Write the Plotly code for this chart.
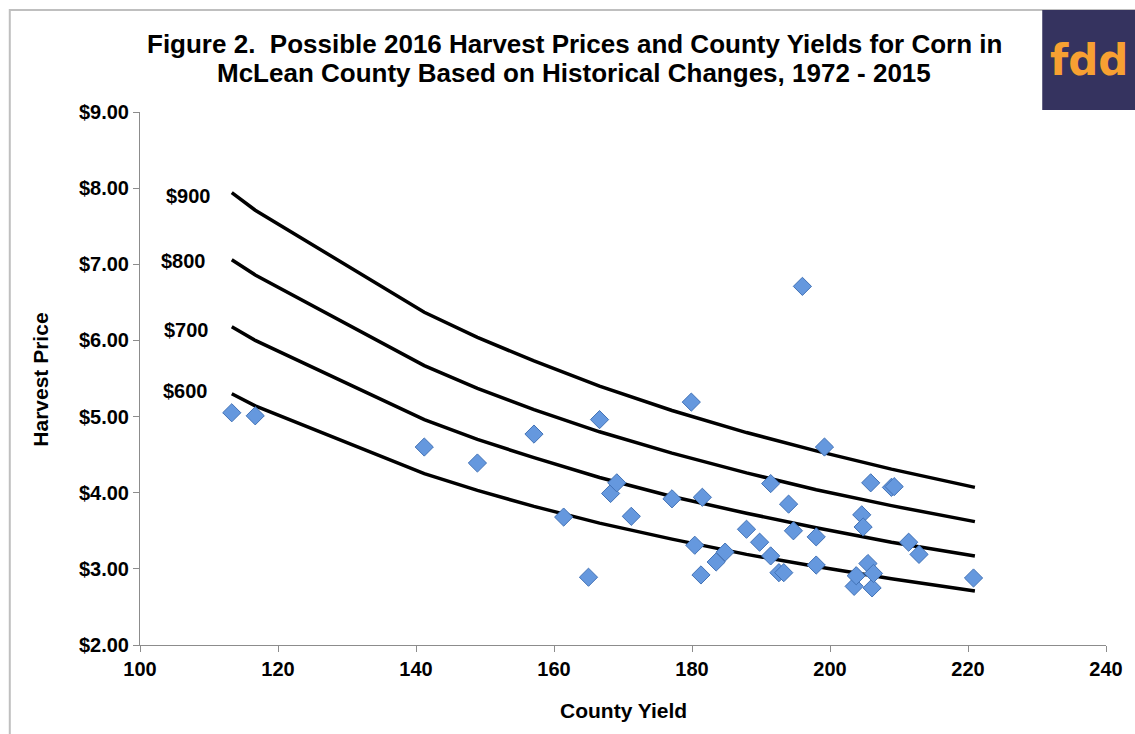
import plotly.graph_objects as go

# Scatter data: county yield vs harvest price (1972-2015)
yields = [113.3, 116.7, 141.2, 148.9, 157.1, 161.4, 165.0, 166.6, 168.2, 169.1,
          171.2, 177.1, 179.9, 180.4, 181.3, 181.5, 183.5, 184.8, 187.9, 189.8,
          191.4, 191.4, 192.6, 193.3, 194.0, 194.7, 196.0, 198.0, 198.0, 199.2,
          203.5, 203.8, 204.6, 204.8, 205.5, 205.9, 206.1, 206.3, 208.9, 209.3,
          211.4, 212.9, 220.8]
prices = [5.05, 5.01, 4.60, 4.39, 4.77, 3.68, 2.89, 4.96, 3.99, 4.13,
          3.69, 3.92, 5.19, 3.31, 2.92, 3.94, 3.09, 3.22, 3.52, 3.35,
          4.12, 3.17, 2.95, 2.95, 3.85, 3.50, 6.71, 3.42, 3.05, 4.60,
          2.77, 2.91, 3.71, 3.55, 3.07, 4.13, 2.75, 2.94, 4.07, 4.08,
          3.35, 3.19, 2.88]

# Revenue curves (price at each yield point)
curve_x = [113.3, 116.7, 141.2, 148.9, 157.1, 166.6, 177.1, 187.9, 198.0, 208.9, 221.0]
curve_600 = [5.30, 5.14, 4.25, 4.03, 3.82, 3.60, 3.39, 3.19, 3.03, 2.87, 2.71]
curve_700 = [6.18, 6.00, 4.96, 4.70, 4.46, 4.20, 3.95, 3.73, 3.54, 3.35, 3.17]
curve_800 = [7.06, 6.86, 5.67, 5.37, 5.09, 4.80, 4.52, 4.26, 4.04, 3.83, 3.62]
curve_900 = [7.94, 7.71, 6.37, 6.04, 5.73, 5.40, 5.08, 4.79, 4.55, 4.31, 4.07]

curve_labels = ["$900", "$800", "$700", "$600"]
label_x = [110.6, 109.8, 110.3, 110.1]
label_y = [7.90, 7.04, 6.14, 5.34]

x_ticks = [100, 120, 140, 160, 180, 200, 220, 240]
x_tick_text = ["100", "120", "140", "160", "180", "200", "220", "240"]
y_ticks = [2, 3, 4, 5, 6, 7, 8, 9]
y_tick_text = ["$2.00", "$3.00", "$4.00", "$5.00", "$6.00", "$7.00", "$8.00", "$9.00"]

FONT = "Liberation Sans, Arial, sans-serif"

fig = go.Figure()
for cy in [curve_600, curve_700, curve_800, curve_900]:
    fig.add_trace(go.Scatter(x=curve_x, y=cy, mode="lines",
                             line=dict(color="black", width=3.5),
                             showlegend=False, hoverinfo="skip"))

fig.add_trace(go.Scatter(x=yields, y=prices, mode="markers",
                         marker=dict(symbol="diamond", size=14, color="#6598de",
                                     line=dict(color="#4272b6", width=1)),
                         showlegend=False))

annotations = []
for t, lx, ly in zip(curve_labels, label_x, label_y):
    annotations.append(dict(x=lx, y=ly, xref="x", yref="y", text="<b>%s</b>" % t,
                            showarrow=False, xanchor="right", yanchor="middle",
                            font=dict(family=FONT, size=20, color="black")))

annotations += [
    dict(x=0.4496, y=1.1276, xref="paper", yref="paper", showarrow=False,
         text="<b>Figure 2.  Possible 2016 Harvest Prices and County Yields for Corn in</b>",
         xanchor="center", yanchor="middle", font=dict(family=FONT, size=26, color="black")),
    dict(x=0.4496, y=1.0732, xref="paper", yref="paper", showarrow=False,
         text="<b>McLean County Based on Historical Changes, 1972 - 2015</b>",
         xanchor="center", yanchor="middle", font=dict(family=FONT, size=26, color="black")),
    dict(x=0.5, y=-0.122, xref="paper", yref="paper", showarrow=False,
         text="<b>County Yield</b>", xanchor="center", yanchor="middle",
         font=dict(family=FONT, size=21, color="black")),
    dict(x=-0.1029, y=0.497, xref="paper", yref="paper", showarrow=False,
         text="<b>Harvest Price</b>", textangle=-90, xanchor="center", yanchor="middle",
         font=dict(family=FONT, size=21, color="black")),
    dict(x=0.982, y=1.096, xref="paper", yref="paper", showarrow=False,
         text="<b>fdd</b>", xanchor="center", yanchor="middle",
         font=dict(family="DejaVu Sans, Verdana, sans-serif", size=42, color="#f7a032")),
]

shapes = [
    dict(type="rect", xref="paper", yref="paper", x0=-0.1348, x1=1.2, y0=-0.3, y1=1.1914,
         line=dict(color="#bfbfbf", width=2), fillcolor="rgba(0,0,0,0)", layer="below"),
    dict(type="rect", xref="paper", yref="paper", x0=0.934, x1=1.05, y0=1.0038, y1=1.1914,
         line=dict(width=0), fillcolor="#35335f", layer="above"),
]

fig.update_layout(
    width=1135, height=734,
    margin=dict(l=140, r=23, t=112, b=89),
    paper_bgcolor="white", plot_bgcolor="white",
    annotations=annotations, shapes=shapes,
    xaxis=dict(range=[100, 240], tickvals=x_ticks, ticktext=["<b>%s</b>" % t for t in x_tick_text],
               showgrid=False, zeroline=False,
               showline=True, linecolor="#8c8c8c", linewidth=1,
               ticks="outside", ticklen=6, tickcolor="#8c8c8c",
               tickfont=dict(family=FONT, size=20, color="black")),
    yaxis=dict(range=[2, 9], tickvals=y_ticks, ticktext=["<b>%s</b>" % t for t in y_tick_text],
               showgrid=False, zeroline=False,
               showline=True, linecolor="#8c8c8c", linewidth=1,
               ticks="outside", ticklen=6, tickcolor="#8c8c8c",
               tickfont=dict(family=FONT, size=20, color="black")),
)

fig.write_html("out.html", config={"displayModeBar": False},
               post_script="document.body.style.margin='0';document.body.style.overflow='hidden';")
